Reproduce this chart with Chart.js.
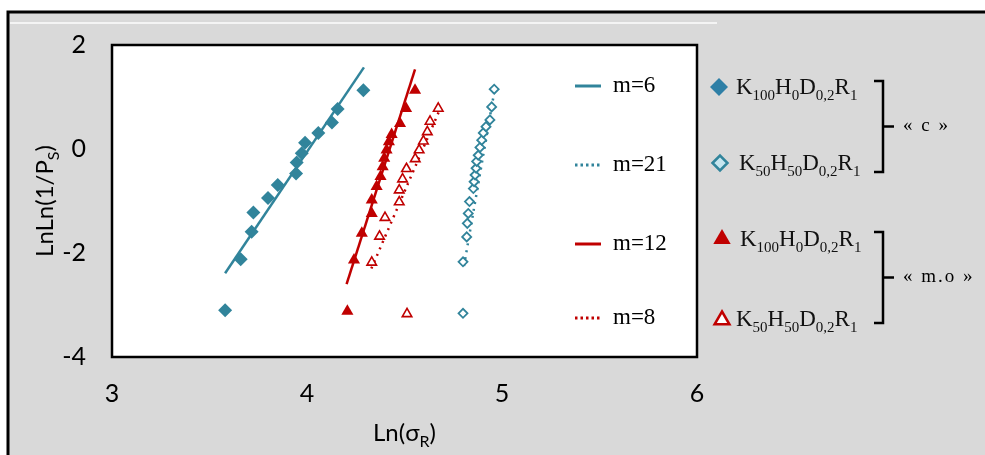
<!DOCTYPE html>
<html>
<head>
<meta charset="utf-8">
<script src="https://cdn.jsdelivr.net/npm/chart.js@4.4.1/dist/chart.umd.min.js"></script>
<style>
  html, body { margin: 0; padding: 0; background: #fff; }
  canvas { display: block; }
</style>
</head>
<body>
<canvas id="chart" width="985" height="455"></canvas>
<script>
// axis ticks
const xTicks = [3, 4, 5, 6];
const yTicks = [-4, -2, 0, 2];

// « c »  K100H0D0,2R1 (filled diamonds)
const cFullX = [3.58, 3.66, 3.716, 3.725, 3.80, 3.85, 3.944, 3.947, 3.973, 3.99, 4.058, 4.128, 4.157, 4.289];
const cFullY = [-3.10, -2.12, -1.59, -1.22, -0.94, -0.69, -0.47, -0.26, -0.08, 0.12, 0.31, 0.51, 0.77, 1.13];

// « c »  K50H50D0,2R1 (open diamonds)
const cHalfX = [4.80, 4.80, 4.819, 4.822, 4.827, 4.833, 4.853, 4.857, 4.862, 4.867, 4.87, 4.878, 4.887, 4.896, 4.904, 4.918, 4.938, 4.947, 4.96];
const cHalfY = [-3.16, -2.17, -1.69, -1.43, -1.24, -1.01, -0.76, -0.63, -0.50, -0.37, -0.24, -0.12, 0.03, 0.17, 0.31, 0.43, 0.56, 0.81, 1.15];

// « m.o »  K100H0D0,2R1 (filled triangles)
const moFullX = [4.207, 4.241, 4.281, 4.332, 4.332, 4.357, 4.377, 4.388, 4.396, 4.408, 4.42, 4.434, 4.477, 4.508, 4.554];
const moFullY = [-3.12, -2.135, -1.62, -1.24, -0.98, -0.72, -0.53, -0.34, -0.18, -0.02, 0.14, 0.28, 0.49, 0.78, 1.13];

// « m.o »  K50H50D0,2R1 (open triangles)
const moHalfX = [4.513, 4.332, 4.372, 4.40, 4.473, 4.473, 4.49, 4.51, 4.555, 4.575, 4.597, 4.617, 4.631, 4.673];
const moHalfY = [-3.17, -2.18, -1.68, -1.32, -1.02, -0.79, -0.58, -0.38, -0.19, -0.02, 0.15, 0.33, 0.53, 0.78];

// Weibull fit lines (end points)
const fit6X = [3.58, 4.292];   const fit6Y = [-2.39, 1.57];
const fit21X = [4.805, 4.965]; const fit21Y = [-2.25, 1.2];
const fit12X = [4.203, 4.554]; const fit12Y = [-2.60, 1.53];
const fit8X = [4.33, 4.68];    const fit8Y = [-2.3, 0.75];

const fitLabels = ['m=6', 'm=21', 'm=12', 'm=8'];
const groupLabels = ['« c »', '« m.o »'];

const BLUE = '#31849b';
const RED = '#c00000';
const SANS = 'Lato, "Open Sans", sans-serif';
const SERIF = '"Liberation Serif", "DejaVu Serif", serif';

const pts = (xs, ys) => xs.map((x, i) => ({ x: x, y: ys[i] }));

function lineSet(xs, ys, color, dash) {
    return {
        type: 'line',
        data: pts(xs, ys),
        borderColor: color,
        borderWidth: 2.5,
        borderDash: dash,
        pointRadius: 0,
        fill: false,
        order: 2
    };
}

// draws text with subscripts: parts = [[text, isSub], ...]
function subText(ctx, parts, x, y, size, subSize, family, align) {
    const w = parts.map(p => {
        ctx.font = (p[1] ? subSize : size) + 'px ' + family;
        return ctx.measureText(p[0]).width;
    });
    const total = w.reduce((a, b) => a + b, 0);
    let cx = align === 'center' ? x - total / 2 : x;
    ctx.textAlign = 'left';
    ctx.textBaseline = 'alphabetic';
    parts.forEach((p, i) => {
        ctx.font = (p[1] ? subSize : size) + 'px ' + family;
        ctx.fillText(p[0], cx, p[1] ? y + size * 0.24 : y);
        cx += w[i];
    });
}

function diamond(ctx, x, y, r, fill, stroke) {
    ctx.beginPath();
    ctx.moveTo(x - r, y); ctx.lineTo(x, y - r); ctx.lineTo(x + r, y); ctx.lineTo(x, y + r);
    ctx.closePath();
    ctx.fillStyle = fill; ctx.fill();
    if (stroke) { ctx.strokeStyle = stroke; ctx.lineWidth = 2.5; ctx.stroke(); }
}

function triangle(ctx, x, y, r, fill, stroke) {
    ctx.beginPath();
    ctx.moveTo(x, y - r);
    ctx.lineTo(x + r * 0.87, y + r * 0.5);
    ctx.lineTo(x - r * 0.87, y + r * 0.5);
    ctx.closePath();
    ctx.fillStyle = fill; ctx.fill();
    if (stroke) { ctx.strokeStyle = stroke; ctx.lineWidth = 2.5; ctx.stroke(); }
}

const decor = {
    id: 'decor',
    beforeDraw(chart) {
        const ctx = chart.ctx, a = chart.chartArea;
        ctx.save();
        ctx.fillStyle = '#d9d9d9';
        ctx.fillRect(8, 12, 990, 450);
        ctx.strokeStyle = '#000';
        ctx.lineWidth = 3;
        ctx.strokeRect(8, 12, 990, 450);
        ctx.strokeStyle = '#f4f4f4';
        ctx.lineWidth = 2;
        ctx.beginPath(); ctx.moveTo(10, 23); ctx.lineTo(717, 23); ctx.stroke();
        ctx.fillStyle = '#fff';
        ctx.fillRect(a.left, a.top, a.right - a.left, a.bottom - a.top);
        ctx.restore();
    },
    afterDraw(chart) {
        const ctx = chart.ctx, a = chart.chartArea;
        ctx.save();
        ctx.strokeStyle = '#000';
        ctx.lineWidth = 2.5;
        ctx.strokeRect(a.left, a.top, a.right - a.left, a.bottom - a.top);

        // axis titles
        ctx.fillStyle = '#000';
        subText(ctx, [['Ln(σ', false], ['R', true], [')', false]], (a.left + a.right) / 2, 441, 24, 16, SANS, 'center');
        ctx.save();
        ctx.translate(53, (a.top + a.bottom) / 2);
        ctx.rotate(-Math.PI / 2);
        subText(ctx, [['LnLn(1/P', false], ['S', true], [')', false]], 0, 0, 24, 16, SANS, 'center');
        ctx.restore();

        // legend inside the plot
        const rowsY = [86, 165, 244, 318];
        const styles = [[BLUE, []], [BLUE, [2.5, 3]], [RED, []], [RED, [2.5, 3]]];
        rowsY.forEach((yy, i) => {
            ctx.strokeStyle = styles[i][0];
            ctx.setLineDash(styles[i][1]);
            ctx.lineWidth = 3;
            ctx.beginPath(); ctx.moveTo(575, yy); ctx.lineTo(601, yy); ctx.stroke();
            ctx.setLineDash([]);
            ctx.fillStyle = '#000';
            ctx.font = '23px ' + SERIF;
            ctx.textAlign = 'left';
            ctx.textBaseline = 'middle';
            ctx.fillText(fitLabels[i], 613, yy);
        });

        // legend on the right
        const label = (n1, n2) => [['K', false], [n1, true], ['H', false], [n2, true], ['D', false], ['0,2', true], ['R', false], ['1', true]];
        diamond(ctx, 719, 87, 9, '#2e7fa6');
        diamond(ctx, 720, 163, 7.5, '#c6e6ef', BLUE);
        triangle(ctx, 722, 239, 10, RED);
        triangle(ctx, 722, 320, 8.5, '#fff', RED);
        ctx.fillStyle = '#111';
        subText(ctx, label('100', '0'), 736, 94, 23, 15, SERIF);
        subText(ctx, label('50', '50'), 739, 170, 23, 15, SERIF);
        subText(ctx, label('100', '0'), 740, 246, 23, 15, SERIF);
        subText(ctx, label('50', '50'), 736, 326, 23, 15, SERIF);

        // brackets
        ctx.strokeStyle = '#000';
        ctx.lineWidth = 2.5;
        [[81, 172], [232, 323]].forEach((b, i) => {
            const mid = (b[0] + b[1]) / 2;
            ctx.beginPath();
            ctx.moveTo(874, b[0]); ctx.lineTo(883, b[0]); ctx.lineTo(883, b[1]); ctx.lineTo(874, b[1]);
            ctx.moveTo(883, mid); ctx.lineTo(894, mid);
            ctx.stroke();
            ctx.fillStyle = '#000';
            ctx.font = '19px ' + SERIF;
            ctx.letterSpacing = '2px';
            ctx.textAlign = 'left';
            ctx.textBaseline = 'middle';
            ctx.fillText(groupLabels[i], 903, mid);
            ctx.letterSpacing = '0px';
        });
        ctx.restore();
    }
};

new Chart(document.getElementById('chart'), {
    type: 'scatter',
    data: {
        datasets: [
            { data: pts(cFullX, cFullY), pointStyle: 'rectRot', pointRadius: 7, backgroundColor: BLUE, borderColor: BLUE, borderWidth: 0, order: 1 },
            { data: pts(cHalfX, cHalfY), pointStyle: 'rectRot', pointRadius: 4.5, backgroundColor: '#fff', borderColor: BLUE, borderWidth: 1.8, order: 1 },
            { data: pts(moFullX, moFullY), pointStyle: 'triangle', pointRadius: 7, backgroundColor: RED, borderColor: RED, borderWidth: 0, order: 1 },
            { data: pts(moHalfX, moHalfY), pointStyle: 'triangle', pointRadius: 5.5, backgroundColor: '#fff', borderColor: RED, borderWidth: 1.6, order: 1 },
            lineSet(fit6X, fit6Y, BLUE, []),
            lineSet(fit21X, fit21Y, BLUE, [2, 5]),
            lineSet(fit12X, fit12Y, RED, []),
            lineSet(fit8X, fit8Y, RED, [2, 5])
        ]
    },
    options: {
        responsive: false,
        animation: false,
        layout: { padding: { left: 8, right: 288, top: 45, bottom: 0 } },
        plugins: { legend: { display: false }, tooltip: { enabled: false } },
        scales: {
            x: {
                type: 'linear', min: 3, max: 6,
                afterBuildTicks: s => { s.ticks = xTicks.map(v => ({ value: v })); },
                afterFit: s => { s.height = 98; },
                ticks: { font: { family: SANS, size: 25 }, color: '#000', padding: 22 },
                grid: { display: false, drawTicks: false },
                border: { display: false }
            },
            y: {
                min: -4, max: 2,
                afterBuildTicks: s => { s.ticks = yTicks.map(v => ({ value: v })); },
                afterFit: s => { s.width = 104; },
                ticks: { font: { family: SANS, size: 25 }, color: '#000', padding: 26 },
                grid: { display: false, drawTicks: false },
                border: { display: false }
            }
        }
    },
    plugins: [decor]
});
</script>
</body>
</html>
